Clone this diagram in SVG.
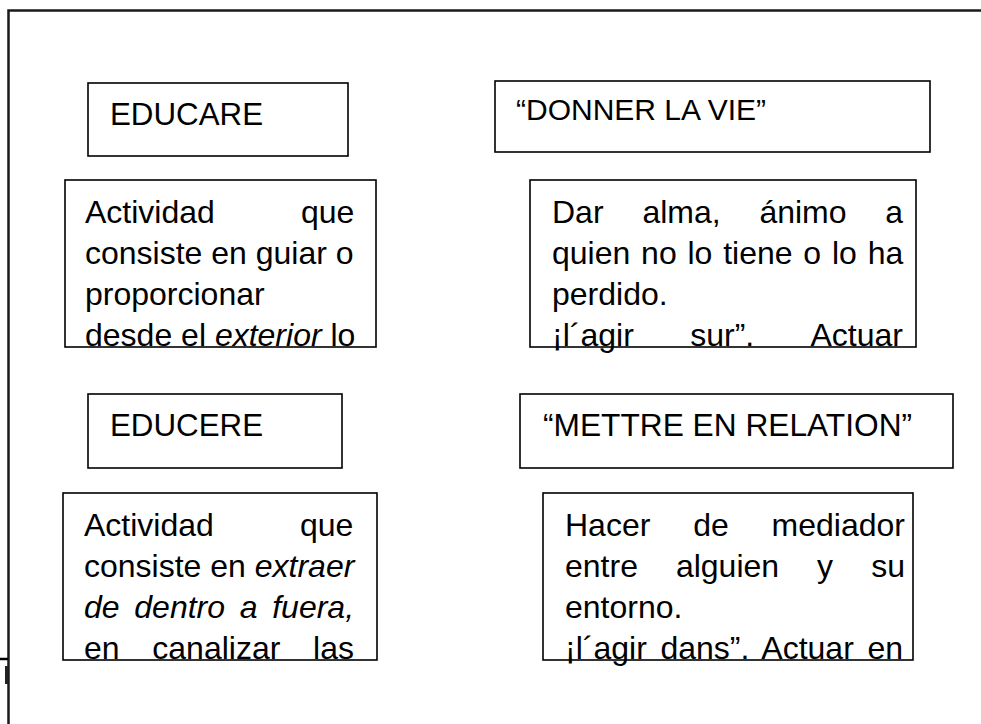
<svg xmlns="http://www.w3.org/2000/svg" width="981" height="724" viewBox="0 0 981 724">
<style>
  .box { fill: #fff; stroke: #000; stroke-width: 1.6; }
  .frame { fill: none; stroke: #1a1a1a; stroke-width: 2.5; }
  .title { font-family: "Liberation Sans", Arial, sans-serif; font-size: 31.3px; fill: #000; }
  .body { font-family: "Liberation Sans", Arial, sans-serif; font-size: 32px; fill: #000; }
  .it { font-style: italic; }
</style>
<rect width="981" height="724" fill="#fff"/>
<g id="frame">
  <path class="frame" d="M8.5,724 V10.5 H981"/>
  <path d="M0,659 H8" stroke="#000" stroke-width="2.5"/>
  <rect x="5" y="666" width="3" height="18" fill="#222"/>
</g>
<g id="educare">
  <rect class="box" x="88" y="83" width="260" height="73"/>
  <text class="title" x="110" y="125">EDUCARE</text>
</g>
<g id="donner">
  <rect class="box" x="495" y="81" width="435" height="71"/>
  <text class="title" x="516" y="120" style="font-size:30px">“DONNER LA VIE”</text>
</g>
<g id="educare-def">
  <rect class="box" x="65" y="180" width="311" height="167"/>
  <text class="body" y="223"><tspan x="85">Actividad</tspan><tspan x="301">que</tspan></text>
  <text class="body" x="85" y="264">consiste en guiar o</text>
  <text class="body" x="85" y="305">proporcionar</text>
  <text class="body" x="85" y="346">desde el <tspan class="it">exterior</tspan> lo</text>
</g>
<g id="donner-def">
  <rect class="box" x="530" y="180" width="386" height="167"/>
  <text class="body" y="223"><tspan x="552">Dar</tspan><tspan x="642.4">alma,</tspan><tspan x="759.4">ánimo</tspan><tspan x="885.3">a</tspan></text>
  <text class="body" x="552" y="264" word-spacing="1.9">quien no lo tiene o lo ha</text>
  <text class="body" x="552" y="305">perdido.</text>
  <text class="body" y="346"><tspan x="552">¡l´agir</tspan><tspan x="690.2">sur”.</tspan><tspan x="810.5">Actuar</tspan></text>
</g>
<g id="educere">
  <rect class="box" x="88" y="394" width="254" height="74"/>
  <text class="title" x="110" y="436">EDUCERE</text>
</g>
<g id="mettre">
  <rect class="box" x="520" y="394" width="433" height="74"/>
  <text class="title" x="543" y="436" style="font-size:31.7px">“METTRE EN RELATION”</text>
</g>
<g id="educere-def">
  <rect class="box" x="63" y="493" width="314" height="167"/>
  <text class="body" y="536"><tspan x="84">Actividad</tspan><tspan x="300">que</tspan></text>
  <text class="body" x="84" y="577">consiste en <tspan class="it">extraer</tspan></text>
  <text class="body it" x="84" y="618" word-spacing="5.8">de dentro a fuera,</text>
  <text class="body" y="659"><tspan x="84">en</tspan><tspan x="152.3">canalizar</tspan><tspan x="313.1">las</tspan></text>
</g>
<g id="mettre-def">
  <rect class="box" x="543" y="493" width="370" height="167"/>
  <text class="body" y="536"><tspan x="565">Hacer</tspan><tspan x="693.2">de</tspan><tspan x="771.6">mediador</tspan></text>
  <text class="body" y="577"><tspan x="565">entre</tspan><tspan x="675.9">alguien</tspan><tspan x="817.1">y</tspan><tspan x="871.2">su</tspan></text>
  <text class="body" x="565" y="618">entorno.</text>
  <text class="body" x="565" y="659" word-spacing="4.8">¡l´agir dans”. Actuar en</text>
</g>
<g id="connectors"></g>
</svg>
